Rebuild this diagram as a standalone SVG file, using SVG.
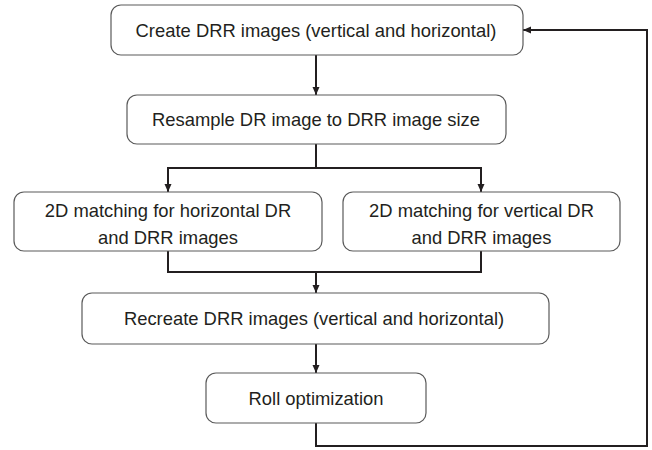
<svg xmlns="http://www.w3.org/2000/svg" width="652" height="450" viewBox="0 0 652 450">
  <style>
    .box { fill: #ffffff; stroke: #5a5a5a; stroke-width: 1.2; }
    .label { font-family: "Liberation Sans", Arial, sans-serif; font-size: 18.4px; fill: #231f20; text-anchor: middle; }
    .wire { fill: none; stroke: #231f20; stroke-width: 2; }
  </style>
  <defs>
    <marker id="arrow" markerUnits="userSpaceOnUse" markerWidth="8" markerHeight="8" refX="8" refY="4" orient="auto">
      <path d="M0,0.5 L8,4 L0,7.5 z" fill="#231f20"/>
    </marker>
  </defs>

  <rect width="652" height="450" fill="#ffffff"/>

  <g id="connectors">
    <path class="wire" d="M316,55 V95" marker-end="url(#arrow)"/>
    <path class="wire" d="M316,144 V168 H168 V192" marker-end="url(#arrow)"/>
    <path class="wire" d="M316,168 H481 V192" marker-end="url(#arrow)"/>
    <path class="wire" d="M168,251 V272 H481 V251"/>
    <path class="wire" d="M316,272 V293" marker-end="url(#arrow)"/>
    <path class="wire" d="M316,344 V373" marker-end="url(#arrow)"/>
    <path class="wire" d="M316,423 V446 H647 V30 H523" marker-end="url(#arrow)"/>
  </g>

  <g id="create-drr">
    <rect class="box" x="111" y="5" width="412" height="50" rx="10"/>
    <text class="label" x="316" y="36.5">Create DRR images (vertical and horizontal)</text>
  </g>

  <g id="resample-dr">
    <rect class="box" x="127" y="95" width="379" height="49" rx="10"/>
    <text class="label" x="316" y="126">Resample DR image to DRR image size</text>
  </g>

  <g id="match-horizontal">
    <rect class="box" x="14" y="192" width="308" height="59" rx="10"/>
    <text class="label" x="168" y="217">2D matching for horizontal DR</text>
    <text class="label" x="168" y="244">and DRR images</text>
  </g>

  <g id="match-vertical">
    <rect class="box" x="343" y="192" width="277" height="59" rx="10"/>
    <text class="label" x="481.5" y="217">2D matching for vertical DR</text>
    <text class="label" x="481.5" y="244">and DRR images</text>
  </g>

  <g id="recreate-drr">
    <rect class="box" x="82" y="293" width="467" height="51" rx="10"/>
    <text class="label" x="314" y="325">Recreate DRR images (vertical and horizontal)</text>
  </g>

  <g id="roll-optimization">
    <rect class="box" x="206" y="373" width="220" height="50" rx="10"/>
    <text class="label" x="316" y="404.5">Roll optimization</text>
  </g>
</svg>
